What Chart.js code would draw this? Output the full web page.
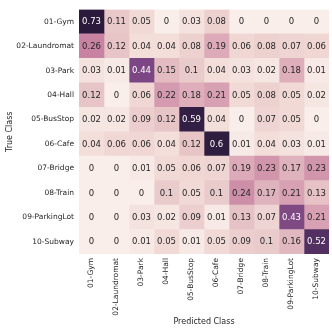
<!DOCTYPE html>
<html>
<head>
<meta charset="utf-8">
<script src="https://cdn.jsdelivr.net/npm/chart.js@4/dist/chart.umd.min.js"></script>
<style>
  html, body { margin: 0; padding: 0; background: #ffffff; }
  #wrap { width: 332px; height: 332px; }
</style>
</head>
<body>
<div id="wrap"><canvas id="c" width="332" height="332"></canvas></div>
<script>
// ---- data ----
const trueClasses = ["01-Gym","02-Laundromat","03-Park","04-Hall","05-BusStop","06-Cafe","07-Bridge","08-Train","09-ParkingLot","10-Subway"];
const predClasses = ["01-Gym","02-Laundromat","03-Park","04-Hall","05-BusStop","06-Cafe","07-Bridge","08-Train","09-ParkingLot","10-Subway"];
const row01 = [0.73, 0.11, 0.05, 0, 0.03, 0.08, 0, 0, 0, 0];
const row02 = [0.26, 0.12, 0.04, 0.04, 0.08, 0.19, 0.06, 0.08, 0.07, 0.06];
const row03 = [0.03, 0.01, 0.44, 0.15, 0.1, 0.04, 0.03, 0.02, 0.18, 0.01];
const row04 = [0.12, 0, 0.06, 0.22, 0.18, 0.21, 0.05, 0.08, 0.05, 0.02];
const row05 = [0.02, 0.02, 0.09, 0.12, 0.59, 0.04, 0, 0.07, 0.05, 0];
const row06 = [0.04, 0.06, 0.06, 0.04, 0.12, 0.6, 0.01, 0.04, 0.03, 0.01];
const row07 = [0, 0, 0.01, 0.05, 0.06, 0.07, 0.19, 0.23, 0.17, 0.23];
const row08 = [0, 0, 0, 0.1, 0.05, 0.1, 0.24, 0.17, 0.21, 0.13];
const row09 = [0, 0, 0.03, 0.02, 0.09, 0.01, 0.13, 0.07, 0.43, 0.21];
const row10 = [0, 0, 0.01, 0.05, 0.01, 0.05, 0.09, 0.1, 0.16, 0.52];
const matrix = [row01, row02, row03, row04, row05, row06, row07, row08, row09, row10];

// ---- colour map (style) ----
const cmapStops = [
  [0.00, [249, 238, 234]],
  [0.05, [241, 218, 214]],
  [0.10, [234, 203, 203]],
  [0.15, [227, 188, 194]],
  [0.20, [218, 166, 182]],
  [0.26, [199, 131, 161]],
  [0.35, [162, 96, 140]],
  [0.44, [123, 70, 131]],
  [0.52, [82, 48, 98]],
  [0.60, [46, 29, 63]],
  [0.73, [43, 26, 59]]
];
function cmap(v) {
  if (v <= cmapStops[0][0]) return cmapStops[0][1];
  for (let k = 1; k < cmapStops.length; k++) {
    if (v <= cmapStops[k][0]) {
      const [a, ca] = cmapStops[k - 1], [b, cb] = cmapStops[k];
      const t = (v - a) / (b - a);
      return ca.map((c, i) => Math.round(c + (cb[i] - c) * t));
    }
  }
  return cmapStops[cmapStops.length - 1][1];
}
function rgb(c) { return `rgb(${c[0]},${c[1]},${c[2]})`; }
function lum(c) {
  const f = x => { x /= 255; return x <= 0.03928 ? x / 12.92 : Math.pow((x + 0.055) / 1.055, 2.4); };
  return 0.2126 * f(c[0]) + 0.7152 * f(c[1]) + 0.0722 * f(c[2]);
}

const FONT = "'DejaVu Sans', sans-serif";

const datasets = predClasses.map((p, j) => ({
  label: p,
  data: matrix.map((row, i) => ({ x: [j, j + 1], y: trueClasses[i], v: row[j] })),
  backgroundColor: ctx => rgb(cmap(ctx.raw.v)),
  borderWidth: 0,
  borderSkipped: false,
  grouped: false,
  barPercentage: 1,
  categoryPercentage: 1
}));

const annot = {
  id: 'annot',
  afterDatasetsDraw(chart) {
    const { ctx, scales: { x, y } } = chart;
    ctx.save();
    ctx.font = `8.5px ${FONT}`;
    ctx.textAlign = 'center';
    ctx.textBaseline = 'middle';
    matrix.forEach((row, i) => {
      row.forEach((v, j) => {
        const px = x.getPixelForValue(j + 0.5);
        const py = y.getPixelForValue(i);
        ctx.fillStyle = lum(cmap(v)) < 0.2 ? '#ffffff' : '#262626';
        ctx.fillText(String(v), px, py + 0.5);
      });
    });
    ctx.restore();
  }
};

new Chart(document.getElementById('c'), {
  type: 'bar',
  data: { labels: trueClasses, datasets },
  options: {
    indexAxis: 'y',
    responsive: false,
    animation: false,
    devicePixelRatio: 1,
    layout: { padding: { left: 0, right: 3, top: 3, bottom: 0 } },
    plugins: { legend: { display: false }, tooltip: { enabled: false } },
    scales: {
      x: {
        type: 'linear',
        min: 0, max: 10,
        grid: { display: false, drawTicks: false },
        border: { display: false },
        afterBuildTicks: axis => { axis.ticks = predClasses.map((_, j) => ({ value: j + 0.5 })); },
        afterFit: axis => { axis.height = 78; },
        ticks: {
          autoSkip: false,
          minRotation: 90, maxRotation: 90,
          padding: 4,
          color: '#262626',
          font: { family: FONT, size: 7.5 },
          callback: (v, idx) => predClasses[idx]
        },
        title: {
          display: true, text: 'Predicted Class',
          color: '#262626',
          font: { family: FONT, size: 8 },
          padding: { top: 0, bottom: 5 }
        }
      },
      y: {
        type: 'category',
        offset: true,
        grid: { display: false, drawTicks: false, offset: true },
        border: { display: false },
        afterFit: axis => { axis.width = 79; },
        ticks: {
          autoSkip: false,
          padding: 5,
          color: '#262626',
          font: { family: FONT, size: 7.5 }
        },
        title: {
          display: true, text: 'True Class',
          color: '#262626',
          font: { family: FONT, size: 8 },
          padding: { top: 5, bottom: 0 }
        }
      }
    }
  },
  plugins: [annot]
});
</script>
</body>
</html>
